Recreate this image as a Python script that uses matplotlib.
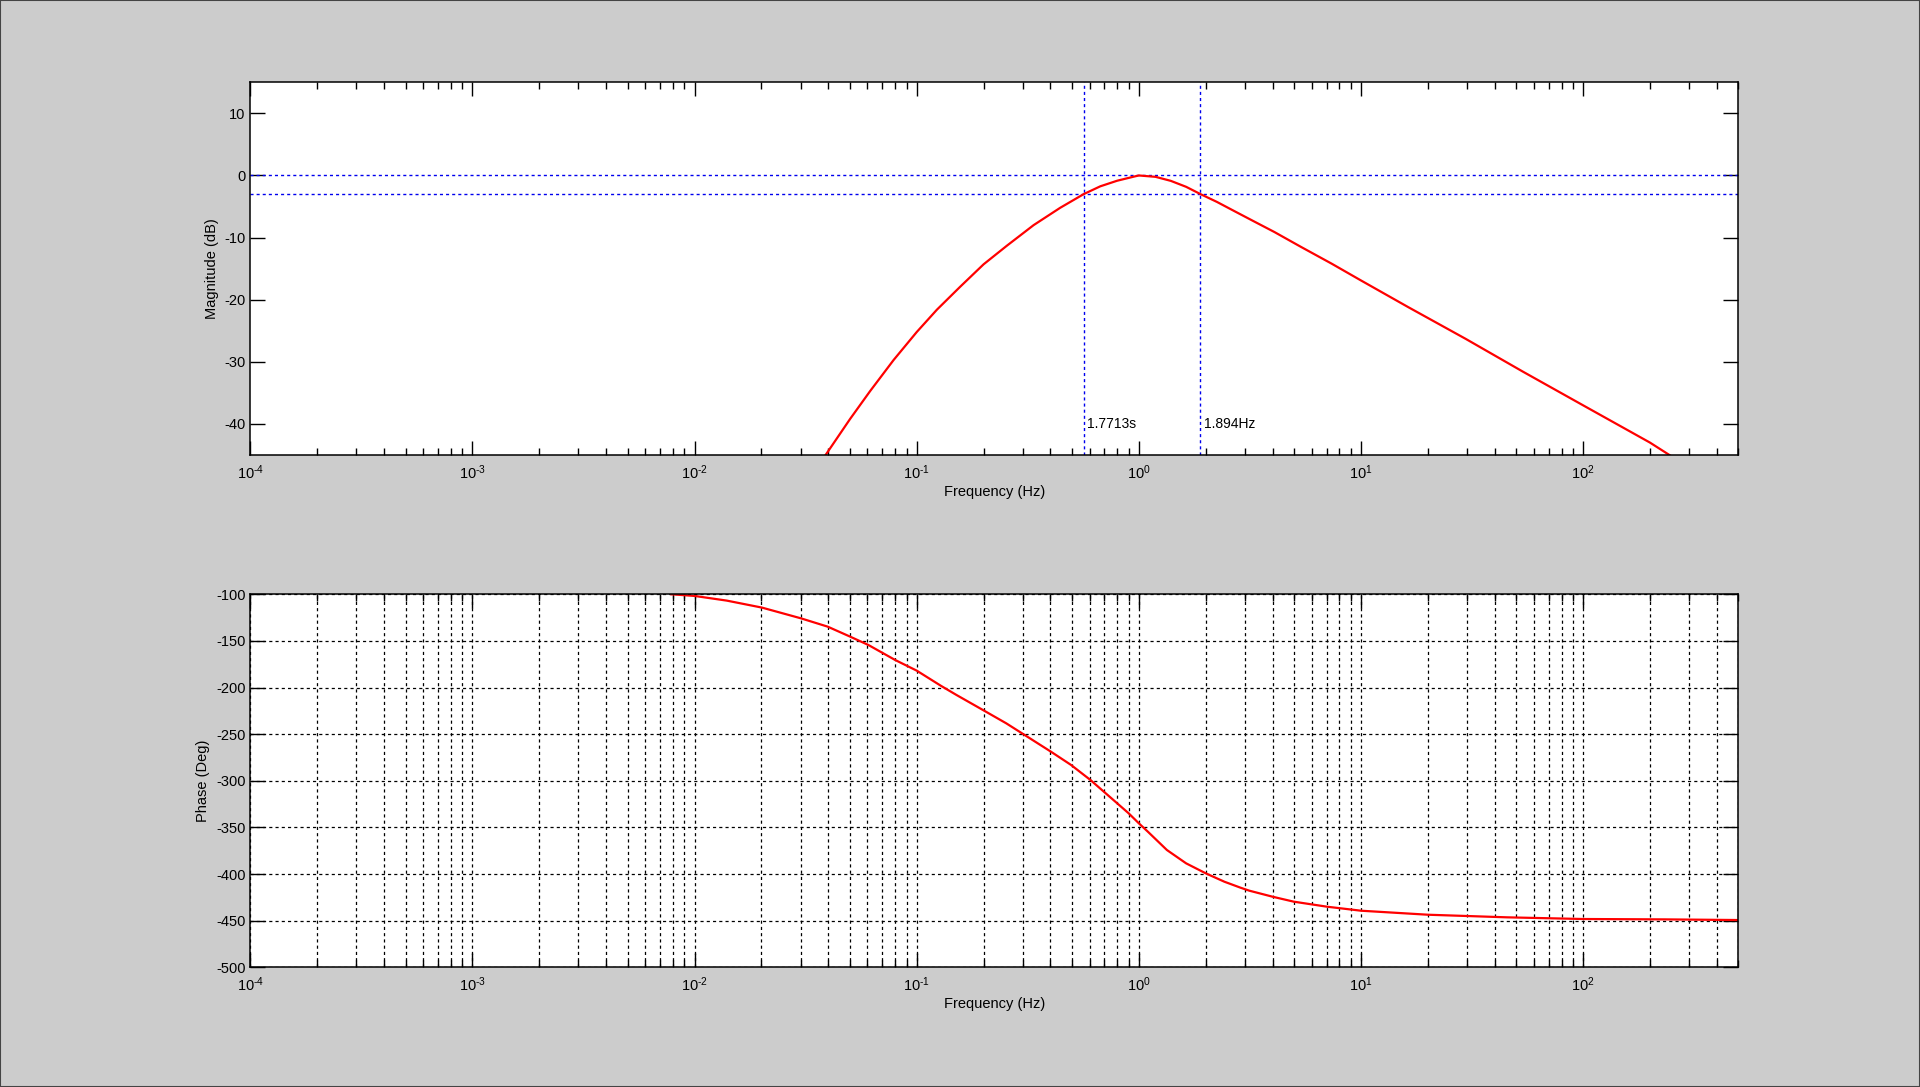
import matplotlib
matplotlib.use("Agg")
import matplotlib.pyplot as plt
import numpy as np
from matplotlib.ticker import LogLocator, NullFormatter, MultipleLocator, FuncFormatter
from matplotlib.patches import Rectangle

plt.rcParams['font.family'] = ['Liberation Sans', 'DejaVu Sans']
plt.rcParams['mathtext.default'] = 'regular'
plt.rcParams['axes.unicode_minus'] = False

# values
mag_freq = [0.0387, 0.0501, 0.0617, 0.0787, 0.1, 0.1233, 0.157, 0.2, 0.2547, 0.3357,
            0.4426, 0.5646, 0.67, 0.798, 0.946, 1.0,
            1.189, 1.393, 1.633, 1.894, 2.244, 2.735, 3.334, 4.074, 5.37, 7.38, 10,
            16.33, 29.6, 53.7, 100, 200, 247.2]
mag_db = [-45.1, -39.2, -34.7, -29.7, -25.2, -21.6, -17.9, -14.3, -11.3, -8.0,
          -5.2, -3.0, -1.75, -0.85, -0.2, 0.0,
          -0.22, -0.87, -1.83, -3.0, -4.25, -5.87, -7.48, -9.1, -11.5, -14.2, -16.9,
          -21.2, -26.3, -31.6, -37.0, -43.0, -45.1]

ph_freq = [0.00785, 0.01, 0.01395, 0.0201, 0.0301, 0.0397, 0.0501, 0.0606, 0.08, 0.1,
           0.1288, 0.151, 0.201, 0.253, 0.301, 0.402, 0.495, 0.605, 0.738, 0.9, 1.0,
           1.097, 1.337, 1.632, 2.0, 2.426, 2.86, 3.14, 4.0, 4.98, 7.03, 10, 20, 45.5,
           100, 234, 500]
ph_deg = [-100, -101.8, -106.8, -114.3, -125.8, -134.7, -145.4, -154.4, -170.5, -181.9,
          -198.3, -208, -224.8, -238.4, -249.8, -268.8, -283, -299.1, -317, -334.9, -345.6,
          -354.5, -374.2, -388.5, -399.2, -408.2, -414.5, -417.8, -424.3, -429.6, -435, -439.3,
          -443.6, -446.4, -448.2, -448.6, -449.3]

f_lo = 1 / 1.7713   # period cursor
f_hi = 1.894
lo_label = '1.7713s'
hi_label = '1.894Hz'

BG = '#cccccc'
fig = plt.figure(figsize=(19.2, 10.87), dpi=100, facecolor=BG)
fig.patches.append(Rectangle((0, 0), 1, 1, transform=fig.transFigure, fill=False,
                             edgecolor='#444444', linewidth=1.5))

ax1 = fig.add_axes([0.1304, 0.5814, 0.775, 0.3429])
ax2 = fig.add_axes([0.1304, 0.1101, 0.775, 0.3432])

def dec_label(v, pos):
    e = int(round(np.log10(v)))
    return '$10^{%s}$' % str(e).replace('-', '\u2010')

def style(ax):
    ax.set_xscale('log')
    ax.set_xlim(1e-4, 500)
    ax.xaxis.set_major_locator(LogLocator(base=10, numticks=20))
    ax.xaxis.set_major_formatter(FuncFormatter(dec_label))
    ax.xaxis.set_minor_locator(LogLocator(base=10, subs=np.arange(2, 10), numticks=50))
    ax.xaxis.set_minor_formatter(NullFormatter())
    ax.tick_params(which='both', direction='in', top=True, right=True, labelsize=10.5, colors='black')
    ax.tick_params(which='major', length=10, width=1)
    ax.tick_params(which='minor', length=5, width=1)
    ax.tick_params(axis='y', which='major', length=11)
    ax.tick_params(axis='x', pad=6)
    for s in ax.spines.values():
        s.set_linewidth(1.1)
    ax.set_xlabel('Frequency (Hz)', fontsize=10.5, labelpad=2)

# magnitude
style(ax1)
ax1.set_ylim(-45, 15)
ax1.yaxis.set_major_locator(MultipleLocator(10))
dash = (0, (2.2, 2.2))
ax1.axhline(0, color='#0000ee', lw=1, ls=dash)
ax1.axhline(-3, color='#0000ee', lw=1, ls=dash)
ax1.axvline(f_lo, color='#0000ee', lw=1, ls=dash)
ax1.axvline(f_hi, color='#0000ee', lw=1, ls=dash)
ax1.plot(mag_freq, mag_db, color='red', lw=1.6)
ax1.text(f_lo * 1.035, -40, lo_label, fontsize=10, va='center', ha='left')
ax1.text(f_hi * 1.035, -40, hi_label, fontsize=10, va='center', ha='left')
ax1.set_ylabel('Magnitude (dB)', fontsize=10.5)

# phase
style(ax2)
ax2.set_ylim(-500, -100)
ax2.yaxis.set_major_locator(MultipleLocator(50))
ax2.grid(True, which='both', axis='x', color='black', ls=(0, (2.5, 2.5)), lw=0.9)
ax2.grid(True, which='major', axis='y', color='black', ls=(0, (2.5, 2.5)), lw=0.9)
ax2.plot(ph_freq, ph_deg, color='red', lw=1.6)
ax2.set_ylabel('Phase (Deg)', fontsize=10.5)

fig.savefig('out.png', dpi=100, facecolor=BG)
